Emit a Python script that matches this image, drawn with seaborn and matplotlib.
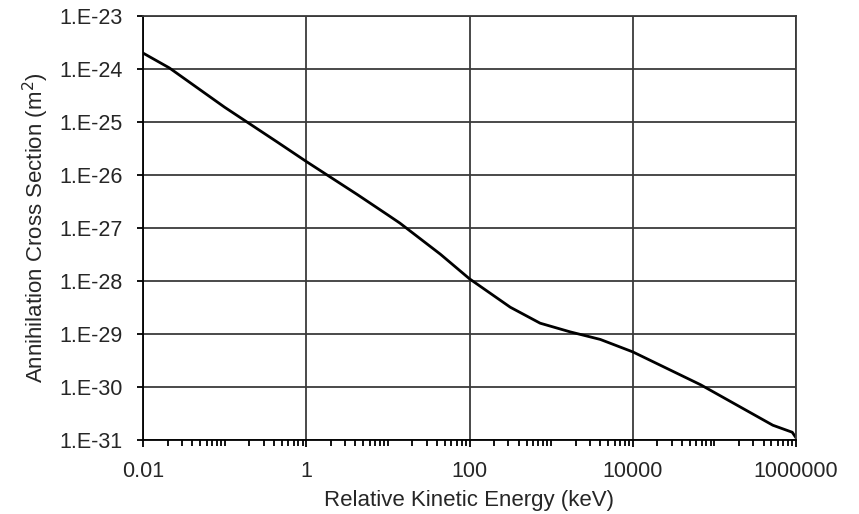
import numpy as np
import pandas as pd
import seaborn as sns
import matplotlib
matplotlib.use("Agg")
import matplotlib.pyplot as plt
from matplotlib.ticker import FixedLocator, NullFormatter, NullLocator

# values
energy_kev = [0.01, 0.021, 0.1, 0.44, 1.0, 4.2, 10, 14, 44, 100, 316, 733, 1700,
              4000, 10000, 68000, 520000, 900000, 1000000]
cross_section = [2.0e-24, 1.05e-24, 1.9e-25, 4.2e-26, 1.8e-26, 4.3e-27, 1.76e-27,
                 1.24e-27, 3.2e-28, 1.1e-28, 3.2e-29, 1.6e-29, 1.1e-29, 7.9e-30,
                 4.6e-30, 1.1e-30, 1.9e-31, 1.4e-31, 1.1e-31]

x_ticks = [0.01, 1, 100, 10000, 1000000]
x_tick_labels = ["0.01", "1", "100", "10000", "1000000"]
y_ticks = [1e-31, 1e-30, 1e-29, 1e-28, 1e-27, 1e-26, 1e-25, 1e-24, 1e-23]
y_tick_labels = ["1.E-31", "1.E-30", "1.E-29", "1.E-28", "1.E-27",
                 "1.E-26", "1.E-25", "1.E-24", "1.E-23"]

df = pd.DataFrame({"energy": energy_kev, "sigma": cross_section})

sns.set_style("white")
plt.rcParams["font.family"] = ["Liberation Sans", "DejaVu Sans"]

fig = plt.figure(figsize=(8.59, 5.14), dpi=100)
ax = fig.add_axes([143 / 859, 1 - 440 / 514, (796 - 143) / 859, (440 - 16) / 514])

sns.lineplot(data=df, x="energy", y="sigma", ax=ax, color="black", linewidth=2.0)

ax.set_xscale("log")
ax.set_yscale("log")
ax.set_xlim(0.01, 1000000)
ax.set_ylim(1e-31, 1e-23)

# major ticks + labels
ax.xaxis.set_major_locator(FixedLocator(x_ticks))
ax.set_xticklabels(x_tick_labels)
ax.yaxis.set_major_locator(FixedLocator(y_ticks))
ax.set_yticklabels(y_tick_labels)

# minor ticks (1..9 x each decade) only on x
minor = [k * 10.0 ** e for e in range(-2, 6) for k in range(1, 10)]
minor = [m for m in minor if not any(np.isclose(m, t) for t in x_ticks)]
ax.xaxis.set_minor_locator(FixedLocator(minor))
ax.xaxis.set_minor_formatter(NullFormatter())
ax.yaxis.set_minor_locator(NullLocator())

ax.tick_params(axis="x", which="major", direction="out", length=5, width=1.3,
               color="black", labelsize=15.5, pad=10, bottom=True)
ax.tick_params(axis="x", which="minor", direction="out", length=4, width=1.3,
               color="black", bottom=True)
ax.tick_params(axis="y", which="major", direction="out", length=4.5, width=1.3,
               color="black", labelsize=15.5, pad=10, left=True)

# gridlines
ax.grid(True, which="major", color="#3a3a3a", linewidth=1.3)
ax.set_axisbelow(True)

for side in ["top", "right"]:
    ax.spines[side].set_color("#3a3a3a")
    ax.spines[side].set_linewidth(1.3)
for side in ["left", "bottom"]:
    ax.spines[side].set_color("black")
    ax.spines[side].set_linewidth(1.3)

ax.set_xlabel("Relative Kinetic Energy (keV)", fontsize=16, labelpad=6)
ax.set_ylabel("Annihilation Cross Section (m$^{2}$)", fontsize=16, labelpad=6)

fig.savefig("out.png", dpi=100, facecolor="white")
